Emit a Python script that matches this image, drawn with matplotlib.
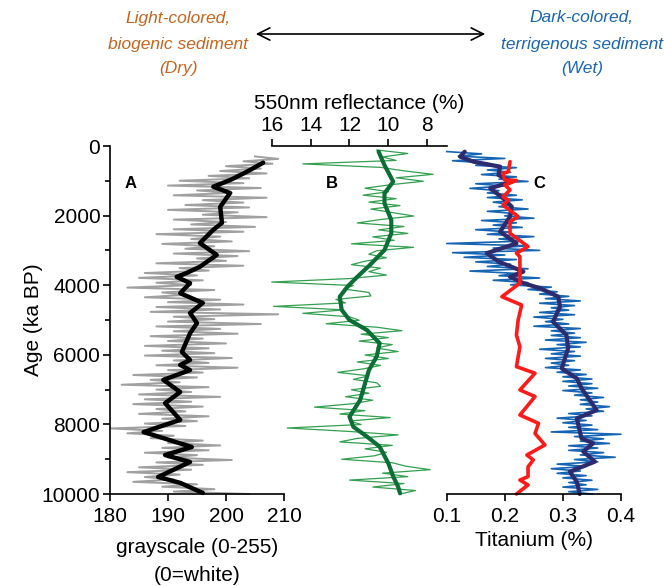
import numpy as np
import matplotlib
matplotlib.use("Agg")
import matplotlib.pyplot as plt
from matplotlib.ticker import MultipleLocator, FixedLocator

plt.rcParams['font.family'] = ['Liberation Sans', 'DejaVu Sans']

# ---------------- Panel A: grayscale ----------------
grayscale_raw = [
    205, 209, 203, 208, 200, 206, 199, 207, 197, 204,
    192, 203, 190, 206, 195, 201, 191, 207, 196, 203,
    193, 204, 190, 202, 196, 207, 191, 200, 194, 205,
    191, 203, 188, 199, 194, 201, 189, 198, 193, 204,
    191, 202, 195, 200, 188, 203, 192, 197, 186, 195,
    185, 196, 188, 194, 183, 198, 189, 193, 186, 199,
    190, 203, 188, 199, 187, 209, 191, 198, 190, 206,
    188, 199, 191, 202, 187, 196, 190, 200, 186, 197,
    189, 198, 186, 201, 191, 197, 188, 202, 190, 196,
    184, 195, 187, 192, 182, 197, 188, 194, 185, 199,
    186, 194, 184, 196, 188, 193, 185, 197, 189, 195,
    186, 193, 180, 189, 183, 191, 187, 196, 190, 199,
    189, 197, 186, 195, 190, 201, 188, 196, 185, 194,
    183, 192, 186, 191, 184, 195, 189, 198, 191, 204,
]
grayscale_age_range = (300, 10000)

grayscale_smooth_age = [480, 740, 980, 1170, 1350, 1750, 2210, 2410, 2790, 3130,
                        3470, 3650, 3760, 3940, 4230, 4510, 4800, 5090, 5380, 5920,
                        6150, 6290, 6440, 6720, 7070, 7390, 7870, 8220, 8650, 8880,
                        9080, 9510, 9680, 9970]
grayscale_smooth = [206.4, 203.6, 200.7, 197.8, 200.7, 199.0, 199.3, 197.8, 195.5, 198.4,
                    195.5, 193.2, 191.5, 193.8, 192.1, 196.0, 193.8, 195.0, 193.8, 192.4,
                    193.8, 192.1, 193.8, 189.2, 192.1, 189.5, 192.1, 185.8, 194.1, 189.5,
                    193.8, 188.3, 192.1, 196.0]

# ---------------- Panel B: 550nm reflectance ----------------
reflect_raw = [
    10.6, 9.0, 10.3, 9.6, 14.4, 10.4, 9.2, 7.7, 9.6, 8.2,
    9.9, 11.2, 10.0, 11.3, 9.6, 11.0, 9.4, 10.9, 9.8, 8.7,
    10.4, 11.6, 9.2, 10.5, 9.0, 10.8, 9.7, 11.9, 8.7, 10.6,
    11.0, 10.1, 11.2, 11.9, 10.4, 11.0, 10.1, 12.0, 16.0, 11.8,
    12.3, 11.0, 10.9, 12.7, 12.2, 15.9, 12.3, 14.4, 12.0, 11.5,
    13.2, 10.6, 9.3, 11.4, 10.0, 11.5, 9.8, 10.6, 9.5, 11.2,
    10.0, 11.6, 10.4, 11.3, 12.6, 11.0, 11.8, 10.6, 10.4, 11.9,
    11.0, 12.2, 10.8, 11.8, 13.8, 11.2, 12.5, 9.9, 12.0, 11.4,
    15.2, 12.0, 9.5, 11.6, 12.5, 9.8, 11.2, 10.1, 10.7, 12.4,
    9.8, 9.1, 7.85, 10.3, 9.0, 12.0, 9.2, 10.8, 8.6, 9.4,
]
reflect_age_range = (115, 10000)

reflect_smooth_age = [164, 550, 1025, 1360, 1650, 2130, 2510, 2990, 3420, 3760,
                      4040, 4330, 4710, 5000, 5290, 5670, 6050, 6440, 6820, 7300,
                      7780, 8070, 8350, 8640, 9120, 9500, 9790, 9980]
reflect_smooth = [10.5, 10.2, 9.75, 10.2, 10.2, 9.85, 9.85, 10.2, 10.95, 11.6,
                  12.1, 12.5, 12.4, 12.0, 11.1, 10.45, 10.6, 11.0, 11.2, 11.45,
                  12.0, 11.8, 11.1, 10.45, 10.0, 9.75, 9.5, 9.4]

# ---------------- Panel C: Titanium ----------------
ti_raw = [
    0.10, 0.16, 0.12, 0.20, 0.11, 0.17, 0.15, 0.22, 0.17, 0.21,
    0.16, 0.22, 0.19, 0.24, 0.15, 0.20, 0.14, 0.19, 0.17, 0.22,
    0.17, 0.23, 0.18, 0.21, 0.19, 0.24, 0.17, 0.22, 0.20, 0.25,
    0.16, 0.22, 0.18, 0.23, 0.15, 0.21, 0.17, 0.25, 0.19, 0.23,
    0.10, 0.24, 0.18, 0.26, 0.11, 0.20, 0.13, 0.22, 0.15, 0.21,
    0.17, 0.24, 0.14, 0.22, 0.19, 0.26, 0.18, 0.24, 0.21, 0.28,
    0.24, 0.29, 0.26, 0.31, 0.27, 0.33, 0.26, 0.32, 0.28, 0.31,
    0.26, 0.32, 0.25, 0.30, 0.27, 0.31, 0.25, 0.33, 0.28, 0.32,
    0.28, 0.33, 0.27, 0.34, 0.29, 0.33, 0.26, 0.32, 0.28, 0.33,
    0.27, 0.32, 0.28, 0.31, 0.27, 0.33, 0.29, 0.34, 0.30, 0.35,
    0.30, 0.35, 0.31, 0.36, 0.30, 0.35, 0.32, 0.37, 0.33, 0.36,
    0.33, 0.38, 0.34, 0.37, 0.31, 0.35, 0.29, 0.34, 0.30, 0.35,
    0.31, 0.36, 0.28, 0.40, 0.32, 0.37, 0.33, 0.38, 0.31, 0.36,
    0.31, 0.37, 0.33, 0.39, 0.32, 0.36, 0.29, 0.34, 0.28, 0.33,
    0.29, 0.34, 0.30, 0.35, 0.31, 0.34, 0.30, 0.36, 0.31, 0.35,
]
ti_age_range = (160, 10000)

ti_smooth_age = [164, 307, 450, 594, 833, 1025, 1215, 1500, 1745, 2030,
                 2460, 2800, 3080, 3320, 3610, 3760, 3940, 4090, 4330, 4620,
                 5050, 5430, 5810, 6390, 6680, 6960, 7590, 7830, 8400, 8540,
                 8780, 9070, 9360, 9650, 10000]
ti_smooth = [0.131, 0.123, 0.146, 0.192, 0.189, 0.212, 0.175, 0.197, 0.212, 0.209,
             0.192, 0.220, 0.169, 0.189, 0.232, 0.209, 0.232, 0.261, 0.292, 0.295,
             0.283, 0.306, 0.309, 0.298, 0.324, 0.332, 0.358, 0.324, 0.332, 0.352,
             0.335, 0.355, 0.312, 0.324, 0.329]

ti_red_age = [450, 738, 785, 977, 990, 1120, 1260, 1460, 1550, 1700,
              2030, 2170, 2510, 2890, 3080, 3180, 3940, 4330, 4570, 5000,
              5430, 5770, 6340, 6530, 7010, 7200, 7730, 7970, 8260, 8590,
              8880, 9020, 9220, 9500, 9600, 9740, 10000]
ti_red = [0.209, 0.206, 0.197, 0.200, 0.220, 0.200, 0.209, 0.197, 0.206, 0.197,
          0.223, 0.209, 0.209, 0.240, 0.220, 0.226, 0.226, 0.195, 0.229, 0.223,
          0.220, 0.226, 0.220, 0.252, 0.226, 0.252, 0.226, 0.258, 0.252, 0.269,
          0.238, 0.249, 0.240, 0.240, 0.226, 0.240, 0.220]

# ---------------- Figure ----------------
W, H = 664, 586
fig = plt.figure(figsize=(W / 100, H / 100), dpi=100)


def rect(x0, x1, y0, y1):
    return [x0 / W, (H - y1) / H, (x1 - x0) / W, (y1 - y0) / H]


FS = 15
axA = fig.add_axes(rect(110, 284, 146, 494))
axB = fig.add_axes(rect(271.7, 446.7, 146, 494))
axC = fig.add_axes(rect(446.7, 621, 146, 494))
for ax in (axA, axB, axC):
    ax.patch.set_alpha(0)
    ax.set_ylim(10000, 0)
    for s in ax.spines.values():
        s.set_linewidth(1.2)
    ax.tick_params(width=1.2, length=5, labelsize=FS)
    ax.tick_params(which='minor', width=1.2, length=3.5)

smooth_kw = dict(solid_capstyle='round', solid_joinstyle='round', clip_on=False)

# Panel A
ageA = np.linspace(*grayscale_age_range, len(grayscale_raw))
axA.plot(grayscale_raw, ageA, color='#a0a0a0', lw=1.4, clip_on=False)
axA.plot(grayscale_smooth, grayscale_smooth_age, color='black', lw=3.2, **smooth_kw)
axA.set_xlim(180, 210)
axA.xaxis.set_major_locator(FixedLocator([180, 190, 200, 210]))
axA.yaxis.set_major_locator(MultipleLocator(2000))
axA.yaxis.set_minor_locator(MultipleLocator(1000))
axA.spines['top'].set_visible(False)
axA.spines['right'].set_visible(False)
axA.tick_params(axis='y', pad=2)
axA.tick_params(axis='x', pad=4)
axA.set_xlabel("grayscale (0-255)\n(0=white)", fontsize=FS, labelpad=9, linespacing=1.6)
axA.set_ylabel("Age (ka BP)", fontsize=FS, labelpad=-1)

# Panel B
ageB = np.linspace(*reflect_age_range, len(reflect_raw))
axB.plot(reflect_raw, ageB, color='#33a050', lw=0.9, clip_on=False)
axB.plot(reflect_smooth, reflect_smooth_age, color='#0b6e35', lw=3.0, **smooth_kw)
axB.set_xlim(16, 7)
axB.xaxis.set_major_locator(FixedLocator([16, 14, 12, 10, 8]))
axB.xaxis.tick_top()
axB.xaxis.set_label_position('top')
for s in ('bottom', 'left', 'right'):
    axB.spines[s].set_visible(False)
axB.set_yticks([])
axB.tick_params(axis='x', pad=3)
axB.set_xlabel("550nm reflectance (%)", fontsize=FS, labelpad=5)

# Panel C
ageC = np.linspace(*ti_age_range, len(ti_raw))
axC.plot(ti_raw, ageC, color='#1565b4', lw=1.2, clip_on=False)
axC.plot(ti_smooth, ti_smooth_age, color='#2e2a6e', lw=3.0, **smooth_kw)
axC.plot(ti_red, ti_red_age, color='#ff1a1a', lw=2.6, **smooth_kw)
axC.set_xlim(0.1, 0.4)
axC.xaxis.set_major_locator(FixedLocator([0.1, 0.2, 0.3, 0.4]))
axC.set_xticklabels(['0.1', '0.2', '0.3', '0.4'])
for s in ('top', 'left', 'right'):
    axC.spines[s].set_visible(False)
axC.set_yticks([])
axC.tick_params(axis='x', pad=4)
axC.set_xlabel("Titanium (%)", fontsize=FS, labelpad=4)

# Panel letters
for lbl, x in (("A", 131), ("B", 332), ("C", 539.5)):
    fig.text(x / W, 1 - 184 / H, lbl, fontsize=12, fontweight='bold',
             ha='center', va='center')

# Header annotations
orange = '#c8641e'
blue = '#1a66b3'
for txt, y in (("Light-colored,", 18), ("biogenic sediment", 44), ("(Dry)", 68)):
    fig.text(178 / W, 1 - y / H, txt, color=orange, style='italic', fontsize=12.5,
             ha='center', va='center')
for txt, y in (("Dark-colored,", 18), ("terrigenous sediment", 44), ("(Wet)", 68)):
    fig.text(582 / W, 1 - y / H, txt, color=blue, style='italic', fontsize=12.5,
             ha='center', va='center')
fig.add_artist(matplotlib.patches.FancyArrowPatch(
    (253 / W, 1 - 34 / H), (488 / W, 1 - 34 / H), transform=fig.transFigure,
    arrowstyle='<->', mutation_scale=22, lw=1.2, color='black'))

fig.savefig("out.png", dpi=100)
